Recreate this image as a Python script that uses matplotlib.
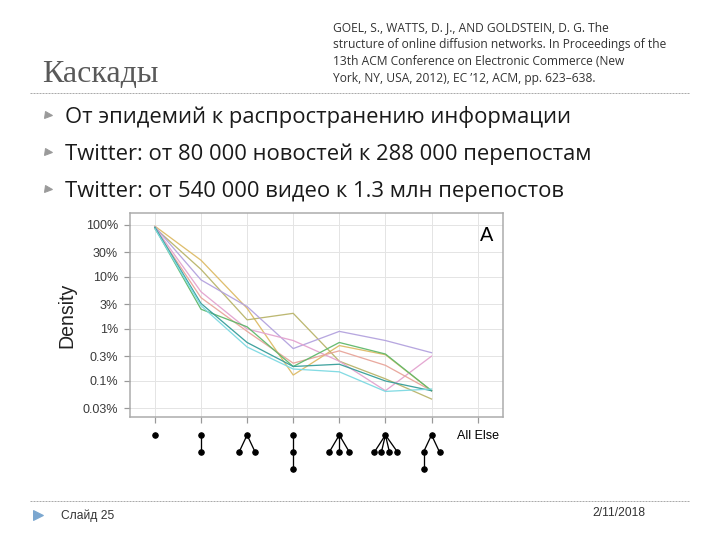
import matplotlib.pyplot as plt

# slide text
title = "Каскады"
citation = ["GOEL, S., WATTS, D. J., AND GOLDSTEIN, D. G. The",
            "structure of online diffusion networks. In Proceedings of the",
            "13th ACM Conference on Electronic Commerce (New",
            "York, NY, USA, 2012), EC \u201912, ACM, pp. 623\u2013638."]
bullets = ["От эпидемий к распространению информации",
           "Twitter: от 80 000 новостей к 288 000 перепостам",
           "Twitter: от 540 000 видео к 1.3 млн перепостов"]
footer_left = "Слайд 25"
footer_right = "2/11/2018"

# chart data (density in %, one value per cascade structure)
positions = [0, 1, 2, 3, 4, 5, 6]
gold = [95, 21, 2.5, 0.13, 0.48, 0.32, 0.065]
olive = [88, 14, 1.5, 2.0, 0.24, 0.11, 0.045]
lavender = [93, 8.8, 2.7, 0.42, 0.9, 0.6, 0.35]
pink = [90, 5.2, 1.0, 0.6, 0.24, 0.065, 0.3]
salmon = [85, 4.0, 0.9, 0.22, 0.38, 0.2, 0.065]
green = [88, 2.4, 1.1, 0.19, 0.55, 0.33, 0.065]
teal = [90, 3.1, 0.55, 0.19, 0.21, 0.1, 0.065]
cyan = [85, 2.8, 0.45, 0.17, 0.15, 0.063, 0.07]
series = [gold, olive, lavender, pink, salmon, green, teal, cyan]
colors = ['#DDBB66', '#B9B46A', '#B3A2DE', '#E3A3CF', '#E8A59A', '#5FB86A', '#379E9A', '#7DD9E2']

ytick_vals = [0.03, 0.1, 0.3, 1, 3, 10, 30, 100]
ytick_labels = ["0.03%", "0.1%", "0.3%", "1%", "3%", "10%", "30%", "100%"]

# cascade glyphs: nodes (dx px, level) and edges between node indices
glyphs = [
    ([(0, 0)], []),
    ([(0, 0), (0, 1)], [(0, 1)]),
    ([(0, 0), (-8, 1), (8, 1)], [(0, 1), (0, 2)]),
    ([(0, 0), (0, 1), (0, 2)], [(0, 1), (1, 2)]),
    ([(0, 0), (-10, 1), (0, 1), (10, 1)], [(0, 1), (0, 2), (0, 3)]),
    ([(0, 0), (-11, 1), (-4, 1), (4, 1), (12, 1)], [(0, 1), (0, 2), (0, 3), (0, 4)]),
    ([(0, 0), (-8, 1), (8, 1), (-8, 2)], [(0, 1), (0, 2), (1, 3)]),
]

fig = plt.figure(figsize=(10, 7.5), dpi=72)


def fy(py):
    return 1 - py / 540


# header
fig.text(42 / 720, fy(82), title, family='Liberation Serif', size=32, color='#595959')
for i, line in enumerate(citation):
    fig.text(333 / 720, fy(28 + i * 16.7), line, family='Open Sans', size=12,
             color='#333333', va='center')
fig.add_artist(plt.Line2D([30 / 720, 690 / 720], [fy(93)] * 2, color='#AAAAAA', lw=1, ls=(0, (2, 1))))

for i, b in enumerate(bullets):
    y = fy(123 + i * 37)
    fig.add_artist(plt.Line2D([48 / 720], [fy(115 + i * 37)], marker='>', color='#9A9A9A', ms=7, lw=0))
    fig.text(65 / 720, y, b, family='Open Sans', size=22, color='#1a1a1a')

# footer
fig.add_artist(plt.Line2D([30 / 720, 690 / 720], [fy(501)] * 2, color='#AAAAAA', lw=1, ls=(0, (2, 1))))
fig.add_artist(plt.Line2D([38 / 720], [fy(515)], marker='>', color='#7BA7D0', ms=10, lw=0))
fig.text(61 / 720, fy(519), footer_left, family='Liberation Sans', size=12, color='#333333')
fig.text(645 / 720, fy(516), footer_right, family='Liberation Sans', size=12, color='#333333', ha='right')

# chart
ax = fig.add_axes([130 / 720, fy(417), 373 / 720, 204 / 540])
for s, c in zip(series, colors):
    ax.plot(positions, s, color=c, lw=1.3, alpha=0.95)
ax.set_yscale('log')
ax.set_ylim(0.0203, 170)
ax.set_xlim(-0.54, 7.55)
ax.set_yticks(ytick_vals)
ax.set_yticklabels(ytick_labels, family='Liberation Sans', size=12.5, color='#3a3a3a')
ax.minorticks_off()
ax.set_xticks(range(8))
ax.set_xticklabels([])
ax.grid(True, color='#E4E4E4', lw=1)
ax.set_axisbelow(True)
for sp in ax.spines.values():
    sp.set_color('#AAAAAA')
    sp.set_linewidth(1.5)
ax.tick_params(color='#999999', length=6, width=1.2, pad=6)
ax.set_ylabel("Density", family='Liberation Sans', size=19.5, color='#222222', labelpad=6)
ax.text(0.955, 0.89, "A", transform=ax.transAxes, family='Liberation Sans', size=20, ha='center', va='center')

# glyph tick labels, sized in pixels below each x tick
px_per_x = 373 / (7.55 + 0.54)
ax_h = 204.0
xt = ax.get_xaxis_transform()
for x, (nodes, edges) in enumerate(glyphs):
    gx = [x + dx / px_per_x for dx, lvl in nodes]
    gy = [-(18 + 17 * lvl) / ax_h for dx, lvl in nodes]
    for a, b in edges:
        ax.plot([gx[a], gx[b]], [gy[a], gy[b]], color='black', lw=1.3, transform=xt, clip_on=False)
    ax.plot(gx, gy, 'o', color='black', ms=5.5, transform=xt, clip_on=False)
ax.text(7, -19 / ax_h, "All Else", transform=xt, family='Liberation Sans', size=12.5,
        ha='center', va='center', clip_on=False)

fig.savefig("out.png", dpi=72)
